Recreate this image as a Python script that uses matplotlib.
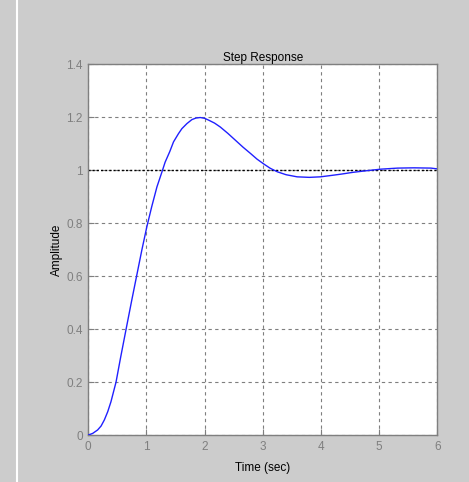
#!/usr/bin/env python3
"""Step response plot in the old MATLAB figure style."""

import matplotlib
matplotlib.use("Agg")
import matplotlib.pyplot as plt

# curve
time_s = [0.0, 0.075, 0.16, 0.22, 0.276, 0.334, 0.39, 0.477, 0.553, 0.65,
          0.747, 0.833, 0.92, 1.006, 1.09, 1.18, 1.276, 1.32, 1.4, 1.465,
          1.55, 1.609, 1.695, 1.78, 1.85, 1.925, 2.0, 2.07, 2.17, 2.27,
          2.4, 2.53, 2.66, 2.79, 2.9, 3.02, 3.13, 3.25, 3.4, 3.59, 3.8,
          3.99, 4.17, 4.34, 4.55, 4.74, 5.03, 5.32, 5.6, 5.89, 6.0]
amplitude = [0.0, 0.006, 0.019, 0.034, 0.057, 0.088, 0.126, 0.2, 0.29,
             0.4, 0.509, 0.603, 0.698, 0.786, 0.862, 0.937, 1.0, 1.03,
             1.07, 1.107, 1.138, 1.157, 1.176, 1.191, 1.197, 1.199, 1.196,
             1.189, 1.178, 1.163, 1.139, 1.113, 1.087, 1.063, 1.042, 1.023,
             1.007, 0.994, 0.983, 0.975, 0.973, 0.975, 0.98, 0.985, 0.992,
             0.997, 1.004, 1.008, 1.009, 1.008, 1.005]
final_value = 1.0

x_ticks = [0, 1, 2, 3, 4, 5, 6]
y_ticks = [0, 0.2, 0.4, 0.6, 0.8, 1, 1.2, 1.4]
y_tick_labels = ["0", "0.2", "0.4", "0.6", "0.8", "1", "1.2", "1.4"]

BG = "#CCCCCC"
GREY = "#7F7F7F"
FONT = ["Liberation Sans Narrow", "Liberation Sans", "DejaVu Sans"]

fig = plt.figure(figsize=(4.69, 4.82), dpi=100)
fig.patch.set_facecolor(BG)

# thin white separator on the left edge
fig.add_artist(plt.Line2D([16.8 / 469, 16.8 / 469], [0, 1], color="white",
                          lw=1.5, transform=fig.transFigure))

ax = fig.add_axes([88.3 / 469, 47 / 482, 349 / 469, 370.7 / 482])
ax.set_facecolor("white")
ax.plot(time_s, amplitude, color="#2020FF", lw=1.0, zorder=3)
ax.axhline(final_value, color="black", lw=1.0, ls=(0, (1.5, 1.5)), zorder=2)

ax.set_xlim(0, 6)
ax.set_ylim(0, 1.4)
ax.set_xticks(x_ticks)
ax.set_yticks(y_ticks)
ax.set_yticklabels(y_tick_labels)
ax.grid(True, color=GREY, lw=0.8, ls=(0, (3, 3)))
ax.tick_params(direction="in", length=4, width=0.8, color=GREY,
               labelcolor=GREY, labelsize=8.5, pad=4)
for lab in ax.get_xticklabels() + ax.get_yticklabels():
    lab.set_family(FONT)
for spine in ax.spines.values():
    spine.set_color(GREY)
    spine.set_linewidth(1.0)

ax.set_title("Step Response", fontsize=8.5, family=FONT, color="black", pad=2)
ax.set_xlabel("Time (sec)", fontsize=8.5, family=FONT, color="black", labelpad=7)
ax.set_ylabel("Amplitude", fontsize=8.5, family=FONT, color="black", labelpad=2)

fig.savefig("out.png", dpi=100, facecolor=BG)
